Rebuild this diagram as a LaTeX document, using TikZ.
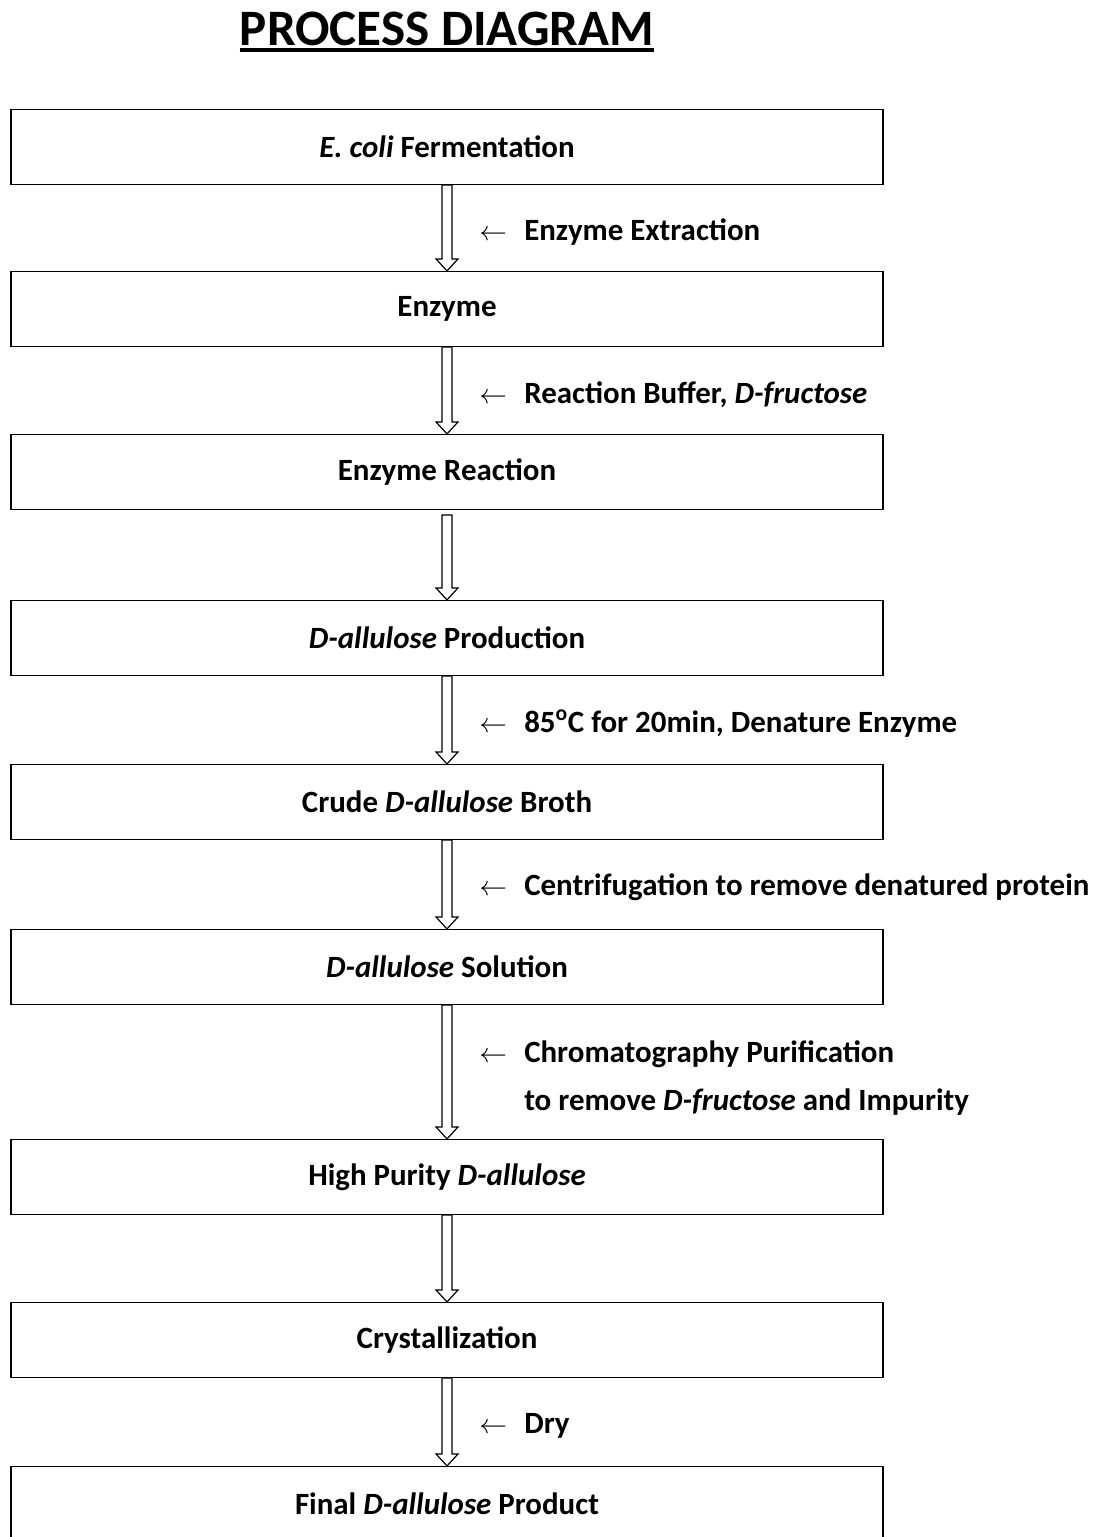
\documentclass[tikz,border=0pt]{standalone}
\usepackage{fontspec}
\setmainfont{Carlito}
\usetikzlibrary{calc}

\newcommand{\addarrow}{\makebox[33.75pt][l]{\fontsize{20}{20}\selectfont$\leftarrow$}}

\tikzset{
  stepbox/.style={draw, line width=1.1pt, minimum width=654pt, minimum height=56pt,
    inner sep=0pt, font=\fontsize{23.2}{27}\selectfont\bfseries},
  sidenote/.style={anchor=west, align=left, inner sep=0pt,
    font=\fontsize{23.2}{36}\selectfont\bfseries},
  % hollow block arrow between two boxes
  hollow/.style={line width=0.9pt, fill=white, to path={
    ($(\tikztostart)+(-5,0)$) -- ($(\tikztotarget)+(-5,-12)$) -- ++(-6,0)
    -- (\tikztotarget) -- ($(\tikztotarget)+(11,-12)$) -- ++(-6,0)
    -- ($(\tikztostart)+(5,0)$) -- cycle}}
}

\begin{document}
\begin{tikzpicture}[x=0.75pt, y=-0.75pt]
    \useasboundingbox (0,0) rectangle (1106,1537);

    % Title
    \node[inner sep=0pt, anchor=base, font=\fontsize{38.3}{42}\selectfont\bfseries] (title) at (447,46) {PROCESS DIAGRAM};
    \draw[line width=2.3pt] ($(title.base west)+(0,4)$) -- ($(title.base east)+(0,4)$);

    % Process steps
    \node[stepbox] (b1) at (447,147) {\textit{E. coli} Fermentation};
    \node[stepbox] (b2) at (447,309) {Enzyme};
    \node[stepbox] (b3) at (447,472) {Enzyme Reaction};
    \node[stepbox] (b4) at (447,638) {\textit{D-allulose} Production};
    \node[stepbox] (b5) at (447,802) {Crude \textit{D-allulose} Broth};
    \node[stepbox] (b6) at (447,967) {\textit{D-allulose} Solution};
    \node[stepbox] (b7) at (447,1177) {High Purity \textit{D-allulose}};
    \node[stepbox] (b8) at (447,1340) {Crystallization};
    \node[stepbox] (b9) at (447,1504) {Final \textit{D-allulose} Product};

    % Arrows
    \draw[hollow] (b1.south) to (b2.north);
    \draw[hollow] (b2.south) to (b3.north);
    \draw[hollow] ($(b3.south)+(0,5)$) to (b4.north);
    \draw[hollow] (b4.south) to (b5.north);
    \draw[hollow] (b5.south) to (b6.north);
    \draw[hollow] (b6.south) to (b7.north);
    \draw[hollow] (b7.south) to (b8.north);
    \draw[hollow] (b8.south) to (b9.north);

    % Side notes
    \node[sidenote] (n1) at (479,232) {\addarrow Enzyme Extraction};
    \node[sidenote] (n2) at (479,395) {\addarrow Reaction Buffer, \textit{D-fructose}};
    \node[sidenote] (n3) at (479,724) {\addarrow 85\textsuperscript{o}C for 20min, Denature Enzyme};
    \node[sidenote] (n4) at (479,887) {\addarrow Centrifugation to remove denatured protein};
    \node[sidenote] (n5) at (479,1078) {\addarrow Chromatography Purification\\
      \hspace*{33.75pt}to remove \textit{D-fructose} and Impurity};
    \node[sidenote] (n6) at (479,1426) {\addarrow Dry};
\end{tikzpicture}
\end{document}
